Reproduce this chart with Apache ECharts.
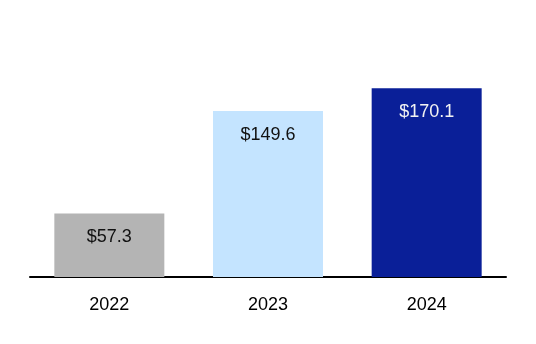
<!DOCTYPE html>
<html>
<head>
<meta charset="utf-8">
<style>
  html, body { margin: 0; padding: 0; background: #ffffff; }
  #chart { width: 536px; height: 344px; }
</style>
<script src="https://cdn.jsdelivr.net/npm/echarts@6/dist/echarts.min.js"></script>
</head>
<body>
<div id="chart"></div>
<script>
// Annual totals (in millions of dollars)
const years = ['2022', '2023', '2024'];
const totals = [57.3, 149.6, 170.1];
const barColors = ['#b4b4b4', '#c4e4ff', '#0a1f98'];
const labelColors = ['#111111', '#111111', '#f2f2f2'];

const chart = echarts.init(document.getElementById('chart'), null, { renderer: 'canvas' });

chart.setOption({
  animation: false,
  backgroundColor: '#ffffff',
  grid: { left: 30, right: 30, top: 55, bottom: 67 },
  xAxis: {
    type: 'category',
    data: years,
    axisLine: { show: true, lineStyle: { color: '#000000', width: 2 } },
    axisTick: { show: false },
    axisLabel: {
      color: '#000000',
      fontFamily: 'Liberation Sans, Arial, sans-serif',
      fontSize: 18,
      margin: 19
    }
  },
  yAxis: {
    type: 'value',
    min: 0,
    max: 200,
    show: false,
    splitLine: { show: false }
  },
  series: [{
    type: 'bar',
    barWidth: 110,
    data: totals.map((v, i) => ({
      value: v,
      itemStyle: { color: barColors[i] },
      label: { color: labelColors[i] }
    })),
    label: {
      show: true,
      position: 'insideTop',
      distance: 15,
      fontFamily: 'Liberation Sans, Arial, sans-serif',
      fontSize: 18,
      formatter: p => '$' + p.value.toFixed(1)
    }
  }]
});
</script>
</body>
</html>
